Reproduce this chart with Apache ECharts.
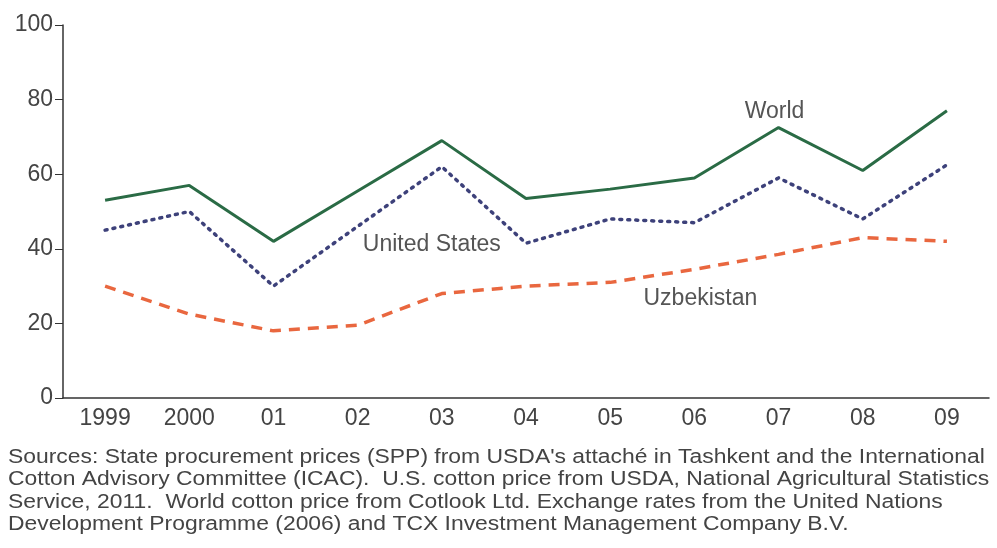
<!DOCTYPE html>
<html>
<head>
<meta charset="utf-8">
<script src="https://cdn.jsdelivr.net/npm/echarts@6/dist/echarts.min.js"></script>
<style>
  html, body { margin: 0; padding: 0; background: #fff; }
  #chart { width: 997px; height: 548px; }
</style>
</head>
<body>
<div id="chart"></div>
<script>
// years on the x axis
const years = ["1999", "2000", "01", "02", "03", "04", "05", "06", "07", "08", "09"];
// cotton prices
const worldPrice = [53, 57, 42, 55.5, 69, 53.5, 56, 59, 72.5, 61, 77];
const usPrice = [45, 50, 30, 46, 62, 41.5, 48, 47, 59, 48, 62.5];
const uzbekPrice = [30, 22.5, 18, 19.5, 28, 30, 31, 34.5, 38.5, 43, 42];
const yTicks = [0, 20, 40, 60, 80, 100];

const sourceLines = [
  "Sources: State procurement prices (SPP) from USDA's attaché in Tashkent and the International",
  "Cotton Advisory Committee (ICAC).  U.S. cotton price from USDA, National Agricultural Statistics",
  "Service, 2011.  World cotton price from Cotlook Ltd. Exchange rates from the United Nations",
  "Development Programme (2006) and TCX Investment Management Company B.V."
];

const chart = echarts.init(document.getElementById("chart"));
const font = "'Liberation Sans', Arial, sans-serif";

// label placed next to a line, tied to a data coordinate
function tag(text, year, value, offset) {
  return {
    symbol: "rect",
    symbolSize: 2,
    itemStyle: { color: "rgba(0,0,0,0)" },
    label: {
      show: true, position: "inside", offset: offset, formatter: text,
      color: "#555", fontSize: 23, fontFamily: font
    },
    data: [{ coord: [year, value] }]
  };
}

const option = {
  animation: false,
  grid: { left: 63, right: 8, top: 25, bottom: 150, containLabel: false },
  xAxis: {
    type: "category",
    data: years,
    boundaryGap: true,
    axisLine: { lineStyle: { color: "#333", width: 1.5 } },
    axisTick: { alignWithLabel: true, length: 5, lineStyle: { color: "#333" } },
    axisLabel: { color: "#444", fontSize: 23, fontFamily: font, margin: 9 }
  },
  yAxis: {
    type: "value",
    min: yTicks[0],
    max: yTicks[yTicks.length - 1],
    interval: 20,
    splitLine: { show: false },
    axisLine: { show: true, lineStyle: { color: "#333", width: 1.5 } },
    axisTick: { show: true, length: 8, lineStyle: { color: "#333" } },
    axisLabel: { color: "#444", fontSize: 23, fontFamily: font, margin: 10 }
  },
  series: [
    {
      name: "World",
      type: "line",
      data: worldPrice,
      symbol: "none",
      lineStyle: { color: "#2a6b45", width: 3 },
      markPoint: tag("World", "07", 77.5, [-4, 3])
    },
    {
      name: "United States",
      type: "line",
      data: usPrice,
      symbol: "none",
      lineStyle: { color: "#3d417a", width: 3.5, type: [2, 6], cap: "round" },
      markPoint: tag("United States", "03", 41.5, [-10, 1])
    },
    {
      name: "Uzbekistan",
      type: "line",
      data: uzbekPrice,
      symbol: "none",
      lineStyle: { color: "#e9673f", width: 3.5, type: [11, 8] },
      markPoint: tag("Uzbekistan", "06", 27.5, [6, 3])
    }
  ],
  graphic: sourceLines.map((line, i) => ({
    type: "text",
    left: 8,
    top: 447 + i * 22.5,
    scaleX: 1.145,
    style: { text: line, fill: "#444", font: "20px " + font }
  }))
};

chart.setOption(option);
</script>
</body>
</html>
